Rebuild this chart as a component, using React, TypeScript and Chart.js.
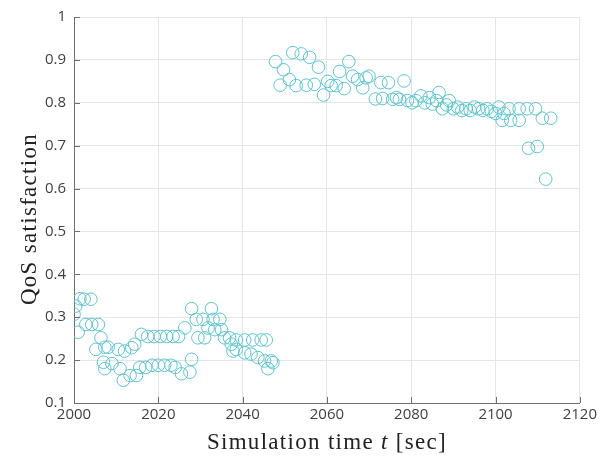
import React, { useEffect, useRef } from "react";
import { Chart, registerables } from "chart.js";

Chart.register(...registerables);

// Simulation time [sec]
const times: number[] = [
  2000.0, 2000.4, 2001.0, 2001.4, 2002.4, 2004.0, 2002.8, 2004.2, 2005.8, 2005.2,
  2006.4, 2007.0, 2007.3, 2007.3, 2008.1, 2009.0, 2010.5, 2010.9, 2011.7, 2012.0,
  2013.3, 2013.7, 2014.4, 2014.8, 2015.6, 2016.0, 2017.0, 2017.5, 2018.5, 2019.0,
  2020.0, 2020.5, 2021.5, 2022.0, 2023.0, 2023.5, 2024.0, 2024.8, 2025.5, 2026.3,
  2027.5, 2027.9, 2027.9, 2029.0, 2029.4, 2030.6, 2031.0, 2031.8, 2032.6, 2033.0,
  2033.4, 2034.6, 2035.0, 2035.7, 2036.9, 2037.3, 2037.7, 2038.5, 2038.5, 2040.5,
  2040.5, 2042.0, 2042.4, 2043.6, 2044.4, 2045.2, 2045.6, 2046.0, 2046.8, 2047.2,
  // high phase
  2047.8, 2048.9, 2049.7, 2051.1, 2051.9, 2052.7, 2053.9, 2055.1, 2055.9, 2057.0,
  2058.0, 2059.2, 2060.2, 2061.0, 2062.2, 2063.0, 2064.1, 2065.2, 2066.1, 2067.3,
  2068.5, 2069.3, 2070.0, 2071.5, 2072.8, 2073.2, 2074.6, 2075.6, 2076.5, 2077.2,
  2078.3, 2079.1, 2080.2, 2081.1, 2082.3, 2083.2, 2084.3, 2085.0, 2086.0, 2086.6,
  2087.4, 2088.4, 2089.0, 2090.0, 2091.0, 2092.0, 2093.0, 2094.0, 2095.0, 2096.0,
  2097.0, 2098.0, 2099.0, 2100.0, 2100.8, 2101.6, 2102.0, 2103.2, 2103.6, 2105.6,
  2105.6, 2107.5, 2107.8, 2109.5, 2109.9, 2111.1, 2111.9, 2113.1,
];

// QoS satisfaction
const qos: number[] = [
  0.307, 0.326, 0.265, 0.343, 0.342, 0.342, 0.283, 0.283, 0.283, 0.225,
  0.252, 0.195, 0.230, 0.180, 0.230, 0.192, 0.225, 0.180, 0.153, 0.221,
  0.164, 0.229, 0.237, 0.164, 0.183, 0.260, 0.183, 0.255, 0.188, 0.255,
  0.188, 0.255, 0.188, 0.255, 0.188, 0.255, 0.183, 0.255, 0.168, 0.275,
  0.172, 0.320, 0.202, 0.295, 0.252, 0.295, 0.252, 0.275, 0.320, 0.295,
  0.271, 0.295, 0.271, 0.252, 0.252, 0.237, 0.221, 0.247, 0.225, 0.247,
  0.217, 0.214, 0.247, 0.206, 0.247, 0.198, 0.247, 0.180, 0.198, 0.194,
  // high phase
  0.896, 0.841, 0.877, 0.854, 0.917, 0.840, 0.914, 0.841, 0.906, 0.843,
  0.883, 0.818, 0.850, 0.840, 0.840, 0.873, 0.833, 0.896, 0.862, 0.854,
  0.835, 0.858, 0.862, 0.809, 0.847, 0.810, 0.847, 0.808, 0.812, 0.808,
  0.851, 0.805, 0.800, 0.805, 0.816, 0.800, 0.812, 0.797, 0.805, 0.824,
  0.786, 0.795, 0.805, 0.786, 0.790, 0.782, 0.786, 0.782, 0.790, 0.786,
  0.782, 0.786, 0.780, 0.775, 0.790, 0.759, 0.775, 0.786, 0.759, 0.759,
  0.786, 0.786, 0.694, 0.786, 0.698, 0.764, 0.622, 0.764,
];

const xTicks: number[] = [2000, 2020, 2040, 2060, 2080, 2100, 2120];
const yTicks: number[] = [0.1, 0.2, 0.3, 0.4, 0.5, 0.6, 0.7, 0.8, 0.9, 1];

const MARKER = "#5ac5cf";
const AXIS = "#6e6e6e";
const GRID = "#e5e5e5";
const LABEL = "#404040";

const decor = {
  id: "decor",
  afterDraw(chart: any) {
    const { ctx, chartArea, scales } = chart;
    const xs = scales.x;
    const ys = scales.y;
    ctx.save();
    // inward ticks
    ctx.strokeStyle = AXIS;
    ctx.lineWidth = 1;
    ctx.beginPath();
    xTicks.forEach((v) => {
      const px = Math.round(xs.getPixelForValue(v)) + 0.5;
      ctx.moveTo(px, chartArea.bottom);
      ctx.lineTo(px, chartArea.bottom - 6);
    });
    yTicks.forEach((v) => {
      const py = Math.round(ys.getPixelForValue(v)) + 0.5;
      ctx.moveTo(chartArea.left, py);
      ctx.lineTo(chartArea.left + 6, py);
    });
    ctx.stroke();

    // x axis title with italic t
    ctx.fillStyle = "#222";
    ctx.textBaseline = "alphabetic";
    ctx.textAlign = "left";
    try {
      (ctx as any).letterSpacing = "1.3px";
    } catch (e) {}
    const normal = "23px 'Liberation Serif', serif";
    const italic = "italic 23px 'Liberation Serif', serif";
    const parts: [string, string][] = [
      ["Simulation time ", normal],
      ["t", italic],
      [" [sec]", normal],
    ];
    let total = 0;
    parts.forEach(([s, f]) => {
      ctx.font = f;
      total += ctx.measureText(s).width;
    });
    let x = (chartArea.left + chartArea.right) / 2 - total / 2;
    const baseY = 449;
    parts.forEach(([s, f]) => {
      ctx.font = f;
      ctx.fillText(s, x, baseY);
      x += ctx.measureText(s).width;
    });

    // y axis title
    ctx.save();
    ctx.translate(36, 219);
    ctx.rotate(-Math.PI / 2);
    ctx.font = normal;
    ctx.textAlign = "center";
    ctx.fillText("QoS satisfaction", 0, 0);
    ctx.restore();
    ctx.restore();
  },
};

export default function App() {
  const ref = useRef<HTMLCanvasElement | null>(null);

  useEffect(() => {
    if (!ref.current) return;
    const chart = new Chart(ref.current, {
      type: "scatter",
      data: {
        datasets: [
          {
            label: "QoS",
            data: times.map((t, i) => ({ x: t, y: qos[i] })),
            pointRadius: 6.3,
            pointHoverRadius: 6.3,
            pointBorderWidth: 1,
            pointBorderColor: MARKER,
            pointBackgroundColor: "rgba(0,0,0,0)",
            showLine: false,
          },
        ],
      },
      options: {
        animation: false,
        responsive: false,
        devicePixelRatio: 1,
        layout: { padding: { left: 0, right: 19, top: 10, bottom: 0 } },
        plugins: {
          legend: { display: false },
          tooltip: { enabled: false },
          title: { display: false },
        },
        scales: {
          x: {
            type: "linear",
            min: 2000,
            max: 2120,
            afterFit: (s: any) => {
              s.height = 61;
            },
            afterBuildTicks: (s: any) => {
              s.ticks = xTicks.map((v) => ({ value: v }));
            },
            ticks: {
              padding: 3,
              color: LABEL,
              font: { family: "'Open Sans', sans-serif", size: 15 },
              maxRotation: 0,
              callback: (v: any) => String(v),
            },
            grid: { color: GRID, drawTicks: false, lineWidth: 1 },
            border: { display: true, color: AXIS, width: 1 },
          },
          y: {
            type: "linear",
            min: 0.1,
            max: 1,
            afterFit: (s: any) => {
              s.width = 74;
            },
            afterBuildTicks: (s: any) => {
              s.ticks = yTicks.map((v) => ({ value: v }));
            },
            ticks: {
              padding: 8,
              color: LABEL,
              font: { family: "'Open Sans', sans-serif", size: 15 },
              callback: (v: any) => String(Number(Number(v).toFixed(1))),
            },
            grid: { color: GRID, drawTicks: false, lineWidth: 1 },
            border: { display: true, color: AXIS, width: 1 },
          },
        },
      },
      plugins: [decor],
    });
    return () => chart.destroy();
  }, []);

  return (
    <div style={{ position: "absolute", left: 0, top: 0, width: 600, height: 464, background: "#fff" }}>
      <canvas ref={ref} width={600} height={464} />
    </div>
  );
}
